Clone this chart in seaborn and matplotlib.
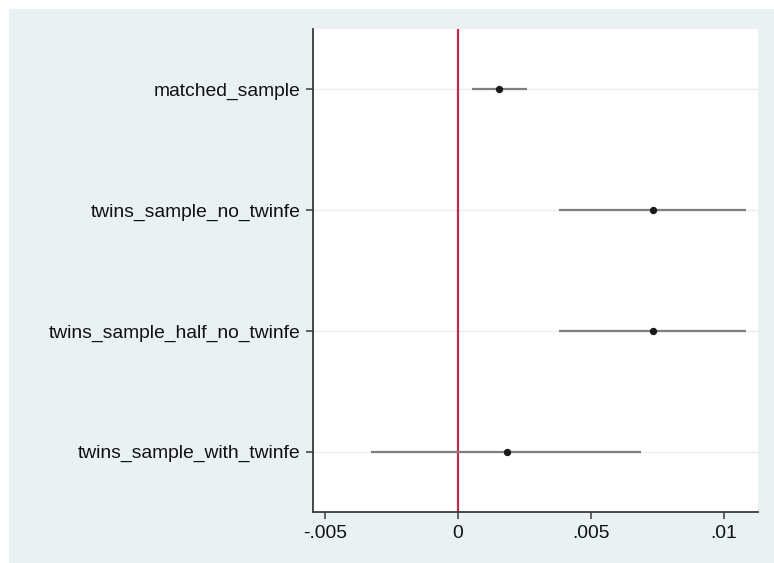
import matplotlib
matplotlib.use("Agg")
import matplotlib.pyplot as plt
import seaborn as sns
import pandas as pd
import numpy as np
from matplotlib.patches import Rectangle

categories = ["matched_sample", "twins_sample_no_twinfe",
              "twins_sample_half_no_twinfe", "twins_sample_with_twinfe"]
coef = [0.00155, 0.00732, 0.00732, 0.00183]
ci_low = [0.00052, 0.00381, 0.00381, -0.00327]
ci_high = [0.00260, 0.01082, 0.01082, 0.00690]
xticks = [-0.005, 0, 0.005, 0.01]
xticklabels = ["-.005", "0", ".005", ".01"]

df = pd.DataFrame({"term": categories, "coef": coef, "lo": ci_low, "hi": ci_high})
df["pos"] = np.arange(len(df))

sns.set_theme(style="white")
plt.rcParams["font.family"] = ["Liberation Sans", "DejaVu Sans"]

fig = plt.figure(figsize=(7.74, 5.63), dpi=100, facecolor="white")
bg = Rectangle((9 / 774, 0), 1 - 9 / 774, 1 - 9 / 563, transform=fig.transFigure,
               facecolor="#EAF1F3", edgecolor="none", zorder=-10)
fig.patches.append(bg)

ax = fig.add_axes([313 / 774, 1 - 512 / 563, (758 - 313) / 774, (512 - 29) / 563])
ax.set_facecolor("white")

for p in df["pos"]:
    ax.axhline(p, color="#EEEEEE", lw=1.0, zorder=0)

ax.axvline(0, color="#C4284E", lw=1.6, zorder=1)
ax.hlines(df["pos"], df["lo"], df["hi"], color="#7F7F7F", lw=1.6, zorder=2)
sns.scatterplot(data=df, x="coef", y="pos", ax=ax, color="#1A1A1A", s=28,
                edgecolor="#1A1A1A", linewidth=0, zorder=3, legend=False)

ax.set_xlim(-0.00545, 0.01128)
ax.set_ylim(3.5, -0.5)
ax.set_xticks(xticks)
ax.set_xticklabels(xticklabels)
ax.set_yticks(df["pos"])
ax.set_yticklabels(categories)
ax.set_xlabel("")
ax.set_ylabel("")

for s in ["top", "right"]:
    ax.spines[s].set_visible(False)
for s in ["left", "bottom"]:
    ax.spines[s].set_visible(True)
    ax.spines[s].set_color("#3A3A3A")
    ax.spines[s].set_linewidth(1.3)

ax.tick_params(axis="both", which="major", direction="out", length=5, width=1.1,
               color="#3A3A3A", labelsize=13.9, labelcolor="#111111", pad=4,
               left=True, bottom=True)

fig.savefig("out.png", dpi=100, facecolor=fig.get_facecolor())
